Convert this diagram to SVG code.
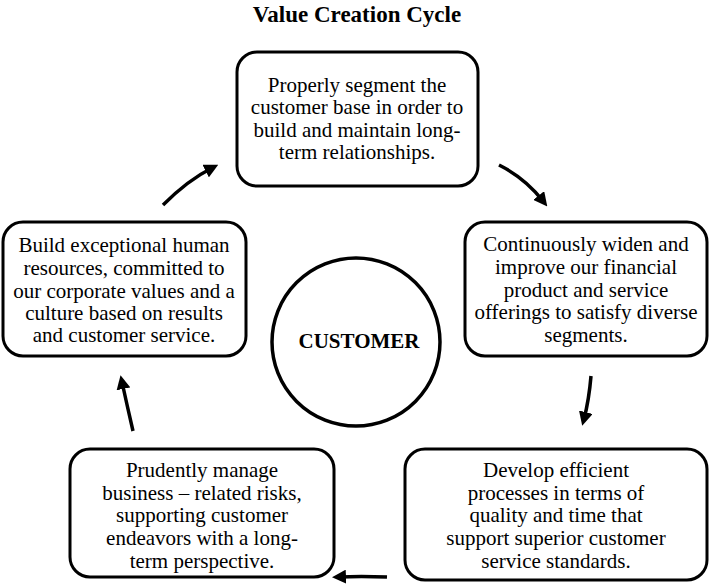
<svg xmlns="http://www.w3.org/2000/svg" width="712" height="585" viewBox="0 0 712 585">
<style>
.box{fill:#fff;stroke:#000;stroke-width:3}
.t{font-family:"Liberation Serif","Times New Roman",serif;font-size:21px;fill:#000;text-anchor:middle}
.title{font-family:"Liberation Serif","Times New Roman",serif;font-size:23px;font-weight:bold;fill:#000;text-anchor:middle}
.arr{fill:none;stroke:#000;stroke-width:3.5}
</style>
<defs>
<marker id="ah" markerWidth="4" markerHeight="4" refX="2" refY="2" orient="auto" markerUnits="strokeWidth">
<path d="M0,0 L4,2 L0,4 z" fill="#000"/>
</marker>
</defs>
<rect width="712" height="585" fill="#fff"/>
<text class="title" x="357" y="22">Value Creation Cycle</text>
<g id="n-top">
<rect class="box" x="237" y="52" width="241" height="134" rx="20"/>
<text class="t"><tspan x="357" y="92">Properly segment the</tspan><tspan x="357" y="114">customer base in order to</tspan><tspan x="357" y="137">build and maintain long-</tspan><tspan x="357" y="159">term relationships.</tspan></text>
</g>
<g id="n-right">
<rect class="box" x="465" y="222" width="242" height="134" rx="20"/>
<text class="t"><tspan x="586" y="251">Continuously widen and</tspan><tspan x="586" y="274">improve our financial</tspan><tspan x="586" y="297">product and service</tspan><tspan x="586" y="319">offerings to satisfy diverse</tspan><tspan x="586" y="342">segments.</tspan></text>
</g>
<g id="n-bottomright">
<rect class="box" x="405" y="449" width="302" height="131" rx="20"/>
<text class="t"><tspan x="556" y="477">Develop efficient</tspan><tspan x="556" y="500">processes in terms of</tspan><tspan x="556" y="522">quality and time that</tspan><tspan x="556" y="545">support superior customer</tspan><tspan x="556" y="568">service standards.</tspan></text>
</g>
<g id="n-bottomleft">
<rect class="box" x="70" y="449" width="264" height="128" rx="20"/>
<text class="t"><tspan x="202" y="477">Prudently manage</tspan><tspan x="202" y="500">business – related risks,</tspan><tspan x="202" y="522">supporting customer</tspan><tspan x="202" y="545">endeavors with a long-</tspan><tspan x="202" y="568">term perspective.</tspan></text>
</g>
<g id="n-left">
<rect class="box" x="3" y="222" width="243" height="134" rx="20"/>
<text class="t"><tspan x="124" y="252">Build exceptional human</tspan><tspan x="124" y="275">resources, committed to</tspan><tspan x="124" y="298">our corporate values and a</tspan><tspan x="124" y="320">culture based on results</tspan><tspan x="124" y="342">and customer service.</tspan></text>
</g>
<g id="n-customer">
<circle cx="356" cy="342" r="84" fill="#fff" stroke="#000" stroke-width="3.5"/>
<text class="title" x="359" y="348" style="font-size:21px">CUSTOMER</text>
</g>
<g id="connectors">
<path class="arr" marker-end="url(#ah)" d="M163,205 Q188,180 212,168"/>
<path class="arr" marker-end="url(#ah)" d="M499,165 Q525,178 543,201"/>
<path class="arr" marker-end="url(#ah)" d="M591,376 Q589,400 584,419"/>
<path class="arr" marker-end="url(#ah)" d="M387,577 Q360,576 339,577"/>
<path class="arr" marker-end="url(#ah)" d="M133,431 Q127,405 122,382"/>
</g>
</svg>
